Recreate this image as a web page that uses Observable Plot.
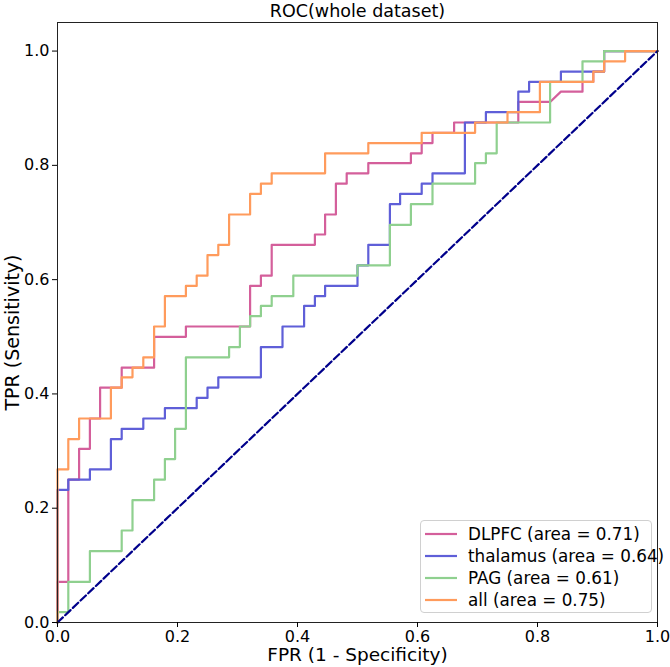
<!DOCTYPE html>
<html>
<head>
<meta charset="utf-8">
<script src="https://cdn.jsdelivr.net/npm/d3@7"></script>
<script src="https://cdn.jsdelivr.net/npm/@observablehq/plot@0.6"></script>
<style>
  html, body { margin: 0; padding: 0; background: #fff; }
  #wrap { position: relative; width: 670px; height: 667px; font-family: "DejaVu Sans", sans-serif; }
  #legend { position: absolute; left: 420px; top: 520px; width: 232px; height: 93px;
    border: 1px solid #d0d0d0; border-radius: 4px; background: rgba(255,255,255,0.85); box-sizing: border-box; }
  .row { position: absolute; left: 0; height: 22px; display: flex; align-items: center; font-size: 16.8px; color: #000; white-space: nowrap; }
  .row svg { margin-left: 4px; margin-right: 11px; }
</style>
</head>
<body>
<div id="wrap"></div>
<script>
// ---- data ----
const title = "ROC(whole dataset)";
const xLabel = "FPR (1 - Specificity)";
const yLabel = "TPR (Sensitivity)";
const seriesNames = ["DLPFC", "thalamus", "PAG", "all"];
const seriesAUC = [0.71, 0.64, 0.61, 0.75];
const seriesColors = ["#d45f9b", "#5f5fd8", "#8fd08f", "#ff9b5c"];
const tickValues = [0, 0.2, 0.4, 0.6, 0.8, 1.0];
const diagFpr = [0, 1];
const diagTpr = [0, 1];

const dlpfcFpr = [0,0,0.018,0.018,0.036,0.036,0.054,0.054,0.071,0.071,0.107,0.107,0.161,0.161,0.214,0.214,0.321,0.321,0.339,0.339,0.357,0.357,0.429,0.429,0.446,0.446,0.464,0.464,0.482,0.482,0.518,0.518,0.589,0.589,0.607,0.607,0.625,0.625,0.661,0.661,0.768,0.768,0.821,0.839,0.875,0.875,0.893,0.893,0.911,0.911,1];
const dlpfcTpr = [0,0.071,0.071,0.25,0.25,0.304,0.304,0.357,0.357,0.411,0.411,0.446,0.446,0.5,0.5,0.518,0.518,0.589,0.589,0.607,0.607,0.661,0.661,0.679,0.679,0.714,0.714,0.768,0.768,0.786,0.786,0.804,0.804,0.821,0.821,0.839,0.839,0.857,0.857,0.875,0.875,0.911,0.911,0.929,0.929,0.946,0.946,0.964,0.964,1,1];

const thalFpr = [0,0,0.018,0.018,0.054,0.054,0.089,0.089,0.107,0.107,0.143,0.143,0.179,0.179,0.232,0.232,0.25,0.25,0.268,0.268,0.339,0.339,0.375,0.375,0.411,0.411,0.429,0.429,0.446,0.446,0.5,0.5,0.518,0.518,0.554,0.554,0.571,0.571,0.607,0.607,0.625,0.625,0.679,0.679,0.714,0.714,0.768,0.768,0.786,0.786,0.839,0.839,0.911,0.911,1];
const thalTpr = [0,0.232,0.232,0.25,0.25,0.268,0.268,0.321,0.321,0.339,0.339,0.357,0.357,0.375,0.375,0.393,0.393,0.411,0.411,0.429,0.429,0.482,0.482,0.518,0.518,0.554,0.554,0.571,0.571,0.589,0.589,0.625,0.625,0.661,0.661,0.732,0.732,0.75,0.75,0.768,0.768,0.786,0.786,0.875,0.875,0.893,0.893,0.929,0.929,0.946,0.946,0.964,0.964,1,1];

const pagFpr = [0,0,0.018,0.018,0.054,0.054,0.107,0.107,0.125,0.125,0.161,0.161,0.179,0.179,0.196,0.196,0.214,0.214,0.286,0.286,0.304,0.304,0.321,0.321,0.339,0.339,0.357,0.357,0.393,0.393,0.5,0.5,0.554,0.554,0.589,0.589,0.625,0.625,0.696,0.696,0.714,0.714,0.732,0.732,0.821,0.821,0.875,0.875,0.911,0.911,1];
const pagTpr = [0,0.018,0.018,0.071,0.071,0.125,0.125,0.161,0.161,0.214,0.214,0.25,0.25,0.286,0.286,0.339,0.339,0.464,0.464,0.482,0.482,0.518,0.518,0.536,0.536,0.554,0.554,0.571,0.571,0.607,0.607,0.625,0.625,0.696,0.696,0.732,0.732,0.768,0.768,0.804,0.804,0.821,0.821,0.875,0.875,0.946,0.946,0.982,0.982,1,1];

const allFpr = [0,0,0.018,0.018,0.036,0.036,0.089,0.089,0.107,0.107,0.125,0.125,0.143,0.143,0.161,0.161,0.179,0.179,0.214,0.214,0.232,0.232,0.25,0.25,0.268,0.268,0.286,0.286,0.321,0.321,0.339,0.339,0.357,0.357,0.446,0.446,0.518,0.518,0.607,0.607,0.696,0.696,0.75,0.75,0.804,0.804,0.893,0.893,0.911,0.911,0.946,0.946,1];
const allTpr = [0,0.268,0.268,0.321,0.321,0.357,0.357,0.411,0.411,0.429,0.429,0.446,0.446,0.464,0.464,0.518,0.518,0.571,0.571,0.589,0.589,0.607,0.607,0.643,0.643,0.661,0.661,0.714,0.714,0.75,0.75,0.768,0.768,0.786,0.786,0.821,0.821,0.839,0.839,0.857,0.857,0.875,0.875,0.893,0.893,0.946,0.946,0.964,0.964,0.982,0.982,1,1];

// ---- build rows ----
const seriesFpr = [dlpfcFpr, thalFpr, pagFpr, allFpr];
const seriesTpr = [dlpfcTpr, thalTpr, pagTpr, allTpr];
const rows = [];
seriesNames.forEach((name, i) => {
  seriesFpr[i].forEach((f, j) => rows.push({series: name, fpr: f, tpr: seriesTpr[i][j]}));
});
const diag = diagFpr.map((f, i) => ({fpr: f, tpr: diagTpr[i]}));
const fmt = d3.format(".1f");
const font = "DejaVu Sans, sans-serif";

const chart = Plot.plot({
  width: 670,
  height: 667,
  marginLeft: 57,
  marginRight: 13,
  marginTop: 22,
  marginBottom: 45,
  style: {fontFamily: font, background: "#fff", color: "#000"},
  x: {domain: [0, 1], label: null},
  y: {domain: [0, 1.05], label: null},
  color: {domain: seriesNames, range: seriesColors},
  marks: [
    Plot.line(rows, {x: "fpr", y: "tpr", z: "series", stroke: "series", strokeWidth: 2.2, curve: "linear"}),
    Plot.line(diag, {x: "fpr", y: "tpr", stroke: "#00008b", strokeWidth: 2.2, strokeDasharray: "7.4,3.2"}),
    Plot.frame({stroke: "#222", strokeWidth: 1}),
    Plot.axisX({ticks: tickValues, tickFormat: fmt, tickSize: 5, tickPadding: 3, fontSize: 16, label: null}),
    Plot.axisY({ticks: tickValues, tickFormat: fmt, tickSize: 5, tickPadding: 3, fontSize: 16, label: null}),
    Plot.text([title], {frameAnchor: "top", lineAnchor: "middle", textAnchor: "middle", dy: -11, fontSize: 17.5, fill: "#000"}),
    Plot.text([xLabel], {frameAnchor: "bottom", lineAnchor: "middle", textAnchor: "middle", dy: 33, fontSize: 18.5, fill: "#000"}),
    Plot.text([yLabel], {frameAnchor: "left", lineAnchor: "middle", textAnchor: "middle", dx: -45, dy: 10, rotate: -90, fontSize: 19, fill: "#000"})
  ]
});

const wrap = document.getElementById("wrap");
wrap.appendChild(chart);

// legend overlay (inside the axes, lower right)
const legend = document.createElement("div");
legend.id = "legend";
seriesNames.forEach((name, i) => {
  const row = document.createElement("div");
  row.className = "row";
  row.style.top = (2 + i * 22) + "px";
  row.innerHTML = `<svg width="32" height="4"><line x1="0" x2="32" y1="2" y2="2" stroke="${seriesColors[i]}" stroke-width="2.2"/></svg><span>${name} (area = ${seriesAUC[i].toFixed(2)})</span>`;
  legend.appendChild(row);
});
wrap.appendChild(legend);
</script>
</body>
</html>
